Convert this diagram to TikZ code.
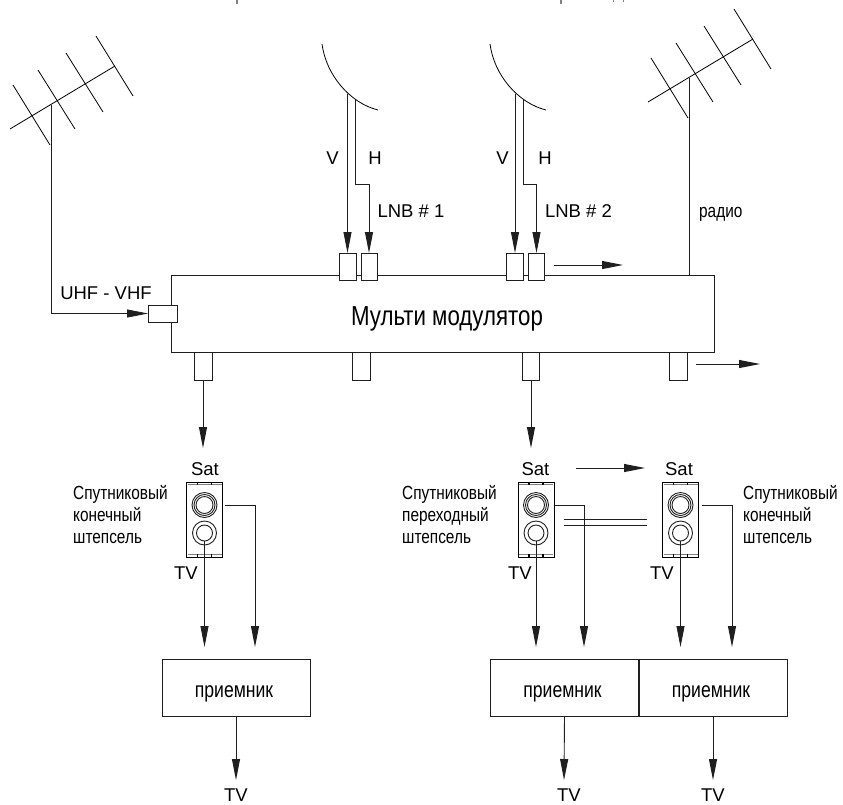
\documentclass[tikz,border=0pt]{standalone}
\usepackage{fontspec}
\setmainfont{Liberation Sans}
\usetikzlibrary{arrows.meta}
\definecolor{wire}{gray}{0.12}
\tikzset{
  wire/.style={draw=wire,line width=0.9pt},
  sig/.style={wire,-{Triangle[length=21pt,width=8pt]}},
  portbox/.style={wire,fill=white,inner sep=0pt,outer sep=0pt,minimum height=27pt},
  recbox/.style={wire,inner sep=0pt,outer sep=0pt,minimum width=148pt,minimum height=57pt},
  reclbl/.style={inner sep=0pt,anchor=base,font=\fontsize{22}{24}\selectfont,xscale=.8,transform shape},
  sockbox/.style={draw=black,line width=1pt,inner sep=0pt,outer sep=0pt,minimum width=36pt,minimum height=75pt},
  lbl/.style={inner sep=0pt,font=\fontsize{18.5}{20}\selectfont},
  cyr/.style={inner sep=0pt,anchor=west,align=left,font=\fontsize{19}{22}\selectfont,xscale=.81,transform shape},
}
% one aerial, drawn at its offset
\newcommand{\aerial}[2]{
  \begin{scope}[shift={(#1,#2)},line width=0.8pt]
    \draw (10,129) -- (115,66);
    \draw (13,85) -- (50,145); \draw (38,70) -- (75,129);
    \draw (66,53) -- (103,112); \draw (96,36) -- (133,96);
  \end{scope}}
% wall socket: box, sat ring, tv ring
\newcommand{\wallsock}[2]{
  \node[sockbox] (#1sock) at (#2,519.5){};
  \draw[gray,line width=1.5pt] (#2-17,484.5) -- (#2+17,484.5); \draw[gray,line width=1.5pt] (#2-17,554.5) -- (#2+17,554.5);
  \draw[line width=1.5pt] (#2-7,482) -- (#2-7,485); \draw[line width=1.5pt] (#2+7,482) -- (#2+7,485);
  \draw[line width=1.5pt] (#2-7,554) -- (#2-7,557); \draw[line width=1.5pt] (#2+7,554) -- (#2+7,557);
  \node[circle,wire,inner sep=0pt,minimum size=17pt] (#1sat) at (#2,505){};
  \draw[wire] (#1sat) circle (10.5pt); \draw[wire] (#1sat) circle (12.5pt);
  \node[circle,wire,inner sep=0pt,outer sep=0pt,minimum size=16pt] (#1tv) at (#2,533){};
  \draw[wire] (#1tv) circle (12pt);}

\begin{document}
\begin{tikzpicture}[x=1pt,y=-1pt]
  \useasboundingbox (0,0) rectangle (843,804);
  % cut off line of the heading
  \draw[gray,line width=1.2pt] (237,0) -- (237,4); \draw[gray,line width=1.2pt] (561,0) -- (561,4);
  \draw[gray,line width=1pt] (613,0) -- (613,2); \draw[gray,line width=1pt] (623,0) -- (623,2);
  % aerials and dishes
  \aerial{0}{0} \aerial{638}{-27}
  \draw[line width=0.8pt] (322,44) .. controls (326,75) and (350,103) .. (378,110);
  \draw[line width=0.8pt] (490,44) .. controls (494,75) and (518,103) .. (546,110);
  \coordinate (lmast) at (51,105); \coordinate (rmast) at (689,78);
  \coordinate (va) at (347.5,94); \coordinate (ha) at (355,100);
  \coordinate (vb) at (515,94); \coordinate (hb) at (523,100);
  % main box and its ports
  \node[wire,inner sep=0pt,outer sep=0pt,minimum width=543pt,minimum height=77pt] (main) at (442.5,313.5){};
  \node[inner sep=0pt,anchor=base,font=\fontsize{27.5}{30}\selectfont,xscale=.81,transform shape] (mlabel) at (447,325){Мульти модулятор};
  \node[portbox,minimum width=29pt,minimum height=17pt] (uhf) at (162.5,313.5){};
  \node[portbox,minimum width=17pt] (pva) at (347.5,266.5){};
  \node[portbox,minimum width=16pt] (pha) at (369,266.5){};
  \node[portbox,minimum width=17pt] (pvb) at (514.5,266.5){};
  \node[portbox,minimum width=16pt] (phb) at (536.5,266.5){};
  \node[portbox,minimum width=18pt,minimum height=28pt] (oa) at (203,366){};
  \node[portbox,minimum width=18pt,minimum height=28pt] (ob) at (361,366){};
  \node[portbox,minimum width=17pt,minimum height=28pt] (oc) at (531,366){};
  \node[portbox,minimum width=18pt,minimum height=28pt] (od) at (678,366){};
  % wires coming in
  \draw[sig] (lmast) |- (uhf.west);
  \draw[wire] (rmast) -- (rmast |- main.north);
  \draw[sig] (va) -- (va |- pva.north);
  \draw[sig] (ha) -- ++(0,84) -| (pha.north);
  \draw[sig] (vb) -- (vb |- pvb.north);
  \draw[sig] (hb) -- ++(0,84) -| (phb.north);
  \coordinate (ga) at (554,265); \coordinate (gb) at (623,265);
  \draw[sig] (ga) -- (gb);
  \coordinate (gc) at (696,364); \coordinate (gd) at (760,364);
  \draw[sig] (gc) -- (gd);
  % sockets
  \wallsock{a}{204.5} \wallsock{b}{536} \wallsock{c}{680.5}
  \coordinate (gotoa) at (203,448); \coordinate (gotob) at (531,448);
  \draw[sig] (oa.south) -- (gotoa);
  \draw[sig] (oc.south) -- (gotob);
  \coordinate (ge) at (576,468); \coordinate (gf) at (645,468);
  \draw[sig] (ge) -- (gf);
  \coordinate (la) at (564,519); \coordinate (lb) at (647,519);
  \coordinate (lc) at (564,525); \coordinate (ld) at (647,525);
  \draw[wire,line width=0.7pt] (la) -- (lb); \draw[wire,line width=0.7pt] (lc) -- (ld);
  % receivers
  \node[recbox] (reca) at (236,687.5){}; \node[reclbl] (lbla) at (234,697){приемник};
  \node[recbox] (recb) at (564.5,687.5){}; \node[reclbl] (lblb) at (562.5,697){приемник};
  \node[recbox] (recc) at (713,687.5){}; \node[reclbl] (lblc) at (711,697){приемник};
  \coordinate (sa) at (255,505); \coordinate (sb) at (584,505); \coordinate (sc) at (732,505);
  \draw[sig,shorten >=12pt] (atv.south) -- (atv.south |- reca.north);
  \draw[sig,shorten >=12pt] (btv.south) -- (btv.south |- recb.north);
  \draw[sig,shorten >=12pt] (ctv.south) -- (ctv.south |- recc.north);
  \draw[sig,shorten >=12pt] ([xshift=2pt]asock.east |- asat) -- (sa) -- (sa |- reca.north);
  \draw[sig,shorten >=12pt] ([xshift=1pt]bsock.east |- bsat) -- (sb) -- (sb |- recb.north);
  \draw[sig,shorten >=12pt] ([xshift=3pt]csock.east |- csat) -- (sc) -- (sc |- recc.north);
  \coordinate (ta) at (236,780); \coordinate (tb) at (564,780); \coordinate (tc) at (713,780);
  \draw[sig] (reca.south) -- (ta); \draw[sig] (recb.south) -- (tb); \draw[sig] (recc.south) -- (tc);
  % labels
  \node[lbl] (uhflbl) at (106,293){UHF - VHF};
  \node[lbl] (vla) at (332.5,158){V}; \node[lbl] (hla) at (375,158){H};
  \node[lbl] (vlb) at (502.5,158){V}; \node[lbl] (hlb) at (545,158){H};
  \node[lbl] (lnba) at (411,211){LNB \# 1}; \node[lbl] (lnbb) at (578.5,211){LNB \# 2};
  \node[cyr] (radio) at (699,214){радио};
  \node[lbl] (sata) at (205,469){Sat}; \node[lbl] (satb) at (535.5,469){Sat}; \node[lbl] (satc) at (679,469){Sat};
  \node[lbl] (tva) at (186,573){TV}; \node[lbl] (tvb) at (520,573){TV}; \node[lbl] (tvc) at (662,573){TV};
  \node[lbl] (tvd) at (236,795){TV}; \node[lbl] (tve) at (569,795){TV}; \node[lbl] (tvf) at (713,795){TV};
  \node[cyr] (nota) at (73,515){Спутниковый\\конечный\\штепсель};
  \node[cyr] (notb) at (402,515){Спутниковый\\переходный\\штепсель};
  \node[cyr] (notc) at (743,515){Спутниковый\\конечный\\штепсель};
\end{tikzpicture}
\end{document}
